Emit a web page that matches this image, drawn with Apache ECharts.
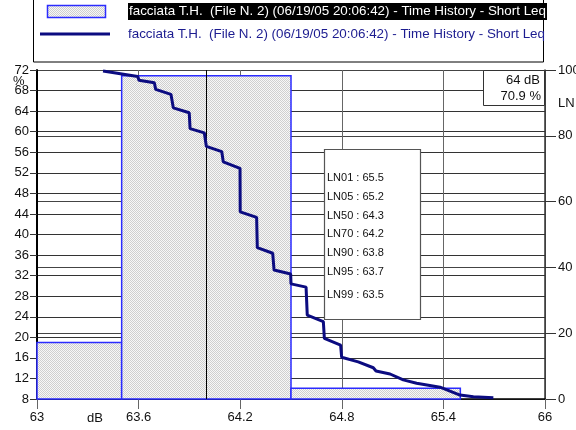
<!DOCTYPE html>
<html><head><meta charset="utf-8">
<script src="https://cdn.jsdelivr.net/npm/echarts@6/dist/echarts.min.js"></script>
<style>html,body{margin:0;padding:0;background:#fff}#c{width:576px;height:430px}</style>
</head><body><div id="c"></div>
<script>
const seriesName = 'facciata T.H.  (File N. 2) (06/19/05 20:06:42) - Time History - Short Leq';
// histogram bins (dB centres) and percentage (left axis)
const binCenters = [63, 64, 65];
const binPercent = [19.0, 70.9, 10.1];
// cumulative LN curve (right axis)
const curveDb = [63.39, 63.595, 63.602, 63.693, 63.701, 63.791, 63.805, 63.899, 63.904, 63.988, 64.0, 64.091, 64.1, 64.199, 64.2, 64.297, 64.301, 64.392, 64.4, 64.498, 64.5, 64.589, 64.596, 64.691, 64.697, 64.793, 64.799, 64.897, 64.986, 65.002, 65.085, 65.163, 65.242, 65.38, 65.498, 65.577, 65.695];
const curveLn = [99.7, 98.0, 96.9, 96.1, 94.1, 92.6, 88.5, 87.0, 82.2, 80.9, 76.8, 75.2, 72.1, 70.1, 56.9, 55.2, 46.0, 44.3, 39.2, 38.0, 35.0, 34.0, 25.5, 23.5, 18.4, 16.4, 12.7, 11.3, 9.5, 8.5, 7.6, 5.8, 4.8, 3.6, 1.2, 0.7, 0.4];
const lnLabels = ['LN01', 'LN05', 'LN50', 'LN70', 'LN90', 'LN95', 'LN99'];
const lnValues = [65.5, 65.2, 64.3, 64.2, 63.8, 63.7, 63.5];
const cursorDb = 64;
const cursorPct = 70.9;

const FONT = '"Liberation Sans", Arial, sans-serif';
const pc = document.createElement('canvas'); pc.width = 2; pc.height = 2;
const g = pc.getContext('2d');
g.fillStyle = '#f7f7f7'; g.fillRect(0, 0, 2, 2);
g.fillStyle = '#cfcfcf'; g.fillRect(0, 0, 1, 1); g.fillRect(1, 1, 1, 1);
const pattern = { image: pc, repeat: 'repeat' };

const chart = echarts.init(document.getElementById('c'));
const lnY = [178, 197, 216, 234, 253, 272, 295];
const lnGraphics = lnLabels.map((l, i) => ({
  type: 'text', x: 327, y: lnY[i], z: 101,
  style: { text: l + ' : ' + lnValues[i].toFixed(1), fill: '#111', font: '11px ' + FONT, verticalAlign: 'middle' }
}));

chart.setOption({
  animation: false,
  backgroundColor: '#fff',
  grid: { left: 37, right: 31, top: 70, bottom: 31, containLabel: false, outerBoundsMode: 'none' },
  xAxis: {
    type: 'value', min: 63, max: 66, interval: 0.6,
    axisLine: { show: true, lineStyle: { color: '#000', width: 1.5 } },
    axisTick: { show: true, length: 10, lineStyle: { color: '#666' } },
    axisLabel: { color: '#111', fontSize: 13, fontFamily: FONT, margin: 12, formatter: v => (Math.round(v * 10) / 10).toString() },
    splitLine: { show: true, lineStyle: { color: '#666', width: 1 } }
  },
  yAxis: [{
    type: 'value', min: 8, max: 72, interval: 4, position: 'left',
    axisLine: { show: true, lineStyle: { color: '#000', width: 2 } },
    axisTick: { show: true, length: 7, lineStyle: { color: '#333' } },
    axisLabel: { color: '#111', fontSize: 13, fontFamily: FONT, margin: 8 },
    splitLine: { show: true, lineStyle: { color: '#333', width: 1 } }
  }, {
    type: 'value', min: 0, max: 100, interval: 20, position: 'right',
    axisLine: { show: true, lineStyle: { color: '#333', width: 1.5 } },
    axisTick: { show: true, length: 11, lineStyle: { color: '#333' } },
    axisLabel: { color: '#111', fontSize: 13, fontFamily: FONT, margin: 13 },
    splitLine: { show: true, lineStyle: { color: '#444', width: 1 } }
  }],
  series: [{
    type: 'custom', name: seriesName, xAxisIndex: 0, yAxisIndex: 0, z: 2,
    data: binCenters.map((c, i) => [c, binPercent[i]]),
    renderItem: (params, api) => {
      const c = api.value(0), v = api.value(1);
      const x0 = Math.max(63, c - 0.5), x1 = Math.min(66, c + 0.5);
      const p0 = api.coord([x0, v]);
      const p1 = api.coord([x1, 8]);
      return {
        type: 'rect',
        shape: { x: p0[0], y: p0[1], width: p1[0] - p0[0], height: p1[1] - p0[1] },
        style: { fill: pattern, stroke: '#2b2bff', lineWidth: 1.5 }
      };
    }
  }, {
    type: 'line', name: seriesName, xAxisIndex: 0, yAxisIndex: 1, z: 5,
    data: curveDb.map((d, i) => [d, curveLn[i]]),
    symbol: 'none', showSymbol: false,
    lineStyle: { color: '#0b0b80', width: 3 },
    markLine: {
      silent: true, symbol: 'none', label: { show: false },
      lineStyle: { color: '#000', width: 1, type: 'solid' },
      data: [{ xAxis: cursorDb }]
    }
  }],
  graphic: [
    { type: 'rect', z: 100, shape: { x: 33.5, y: -1, width: 510, height: 63 }, style: { fill: '#fff', stroke: '#000', lineWidth: 1 } },
    { type: 'rect', z: 101, shape: { x: 47.5, y: 5.5, width: 58, height: 12 }, style: { fill: pattern, stroke: '#2b2bff', lineWidth: 1.5 } },
    { type: 'text', z: 102, x: 128, y: 11.5, style: { text: seriesName, fill: '#fff', backgroundColor: '#000', padding: [2, 1, 2, 1], font: '13.4px ' + FONT, verticalAlign: 'middle' } },
    { type: 'line', z: 101, shape: { x1: 40, y1: 34, x2: 110, y2: 34 }, style: { stroke: '#0b0b80', lineWidth: 3 } },
    { type: 'text', z: 101, x: 128, y: 34, style: { text: seriesName, fill: '#1c1c90', font: '13.4px ' + FONT, verticalAlign: 'middle' } },
    { type: 'text', z: 101, x: 13, y: 81, style: { text: '%', fill: '#111', font: '13px ' + FONT, verticalAlign: 'middle' } },
    { type: 'text', z: 101, x: 558, y: 103, style: { text: 'LN', fill: '#111', font: '13px ' + FONT, verticalAlign: 'middle' } },
    { type: 'text', z: 101, x: 87, y: 418, style: { text: 'dB', fill: '#111', font: '13px ' + FONT, verticalAlign: 'middle' } },
    { type: 'rect', z: 100, shape: { x: 483.5, y: 70.5, width: 61, height: 35 }, style: { fill: '#fff', stroke: '#333', lineWidth: 1 } },
    { type: 'text', z: 101, x: 540, y: 80, style: { text: cursorDb + ' dB', fill: '#111', font: '13px ' + FONT, align: 'right', verticalAlign: 'middle' } },
    { type: 'text', z: 101, x: 541, y: 96, style: { text: cursorPct.toFixed(1) + ' %', fill: '#111', font: '13px ' + FONT, align: 'right', verticalAlign: 'middle' } },
    { type: 'rect', z: 100, shape: { x: 324.5, y: 149.5, width: 96, height: 170 }, style: { fill: '#fff', stroke: '#555', lineWidth: 1.2 } }
  ].concat(lnGraphics)
});
</script></body></html>
